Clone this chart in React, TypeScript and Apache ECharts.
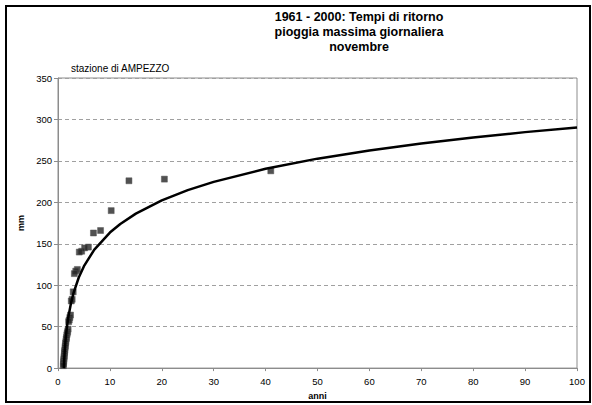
import React, { useEffect, useRef } from "react";
import * as echarts from "echarts";

// Observed points: return period (anni) and daily maximum rain (mm)
const pointT = [
  41.0, 20.5, 13.67, 10.25, 8.2, 6.83, 5.86, 5.13, 4.56, 4.1,
  3.73, 3.42, 3.15, 2.93, 2.73, 2.56, 2.41, 2.28, 2.16, 2.05,
  1.95, 1.86, 1.78, 1.71, 1.64, 1.58, 1.52, 1.46, 1.41, 1.37,
  1.32, 1.28, 1.24, 1.21, 1.17, 1.14, 1.11, 1.08, 1.05, 1.03,
];
const pointMm = [
  238, 228, 226, 190, 166, 163, 146, 145, 141, 140,
  119, 117, 114, 92, 83, 81, 64, 61, 58, 56,
  47, 44, 42, 40, 37, 35, 32, 30, 27, 25,
  22, 20, 18, 15, 13, 11, 9, 7, 5, 3,
];

// Fitted curve
const curveT = [
  1.12, 1.15, 1.2, 1.3, 1.5, 1.75, 2, 2.5, 3, 4, 5, 7, 10, 12, 15, 20,
  25, 30, 40, 50, 60, 70, 80, 90, 100,
];
const curveMm = [
  0, 3.6, 10.5, 21.3, 36.9, 50.9, 61.8, 78.3, 90.8, 109.3, 123, 143, 163.5,
  173.9, 186.4, 202.4, 214.7, 224.7, 240.5, 252.7, 262.6, 271, 278.2, 284.7,
  290.4,
];

const titleLines = [
  "1961 - 2000: Tempi di ritorno",
  "pioggia massima giornaliera",
  "novembre",
];
const subtitle = "stazione di AMPEZZO";
const xName = "anni";
const yName = "mm";

const FONT = "Liberation Sans, Arial, sans-serif";

export default function App() {
  const ref = useRef<HTMLDivElement>(null);
  useEffect(() => {
    if (!ref.current) return;
    const chart = echarts.init(ref.current, undefined, { renderer: "svg" });
    chart.setOption({
      animation: false,
      backgroundColor: "#ffffff",
      textStyle: { fontFamily: FONT },
      grid: {
        left: 58,
        right: 15,
        top: 78,
        bottom: 35,
        show: true,
        borderColor: "#8c8c8c",
        borderWidth: 1,
      },
      xAxis: {
        type: "value",
        min: 0,
        max: 100,
        interval: 10,
        name: xName,
        nameLocation: "middle",
        nameGap: 22,
        nameTextStyle: { fontFamily: FONT, fontSize: 9, fontWeight: "bold", color: "#000" },
        axisLine: { show: true, lineStyle: { color: "#8c8c8c", width: 1 } },
        axisTick: { show: true, length: 3, lineStyle: { color: "#8c8c8c" } },
        axisLabel: { fontFamily: FONT, fontSize: 9.5, color: "#000", margin: 8 },
        splitLine: { show: false },
      },
      yAxis: {
        type: "value",
        min: 0,
        max: 350,
        interval: 50,
        name: yName,
        nameLocation: "middle",
        nameGap: 28,
        nameRotate: 90,
        nameTextStyle: { fontFamily: FONT, fontSize: 9, fontWeight: "bold", color: "#000" },
        axisLine: { show: true, lineStyle: { color: "#8c8c8c", width: 1 } },
        axisTick: { show: true, length: 4, lineStyle: { color: "#8c8c8c" } },
        axisLabel: { fontFamily: FONT, fontSize: 9.5, color: "#000", margin: 6 },
        splitLine: { show: true, lineStyle: { color: "#a0a0a0", type: [4, 3], width: 1 } },
      },
      series: [
        {
          type: "scatter",
          data: pointT.map((t, i) => [t, pointMm[i]]),
          symbol: "rect",
          symbolSize: 6,
          itemStyle: { color: "#262626", borderColor: "#555555", borderWidth: 0.6 },
          z: 2,
        },
        {
          type: "line",
          data: curveT.map((t, i) => [t, curveMm[i]]),
          showSymbol: false,
          smooth: false,
          lineStyle: { color: "#000", width: 2.5 },
          z: 3,
        },
      ],
      graphic: [
        {
          type: "rect",
          shape: { x: 6, y: 6, width: 584, height: 396 },
          style: { fill: "none", stroke: "#000", lineWidth: 2 },
          silent: true,
        },
        {
          type: "text",
          x: 359,
          y: 9,
          style: {
            text: titleLines.join("\n"),
            fontFamily: FONT,
            fontSize: 12.5,
            fontWeight: "bold",
            fill: "#000",
            align: "center",
            lineHeight: 15,
          },
        },
        {
          type: "text",
          x: 71,
          y: 63,
          style: {
            text: subtitle,
            fontFamily: FONT,
            fontSize: 10,
            fill: "#000",
          },
        },
      ],
    });
    return () => chart.dispose();
  }, []);
  return (
    <div
      ref={ref}
      style={{ position: "fixed", left: 0, top: 0, width: 592, height: 405 }}
    />
  );
}
